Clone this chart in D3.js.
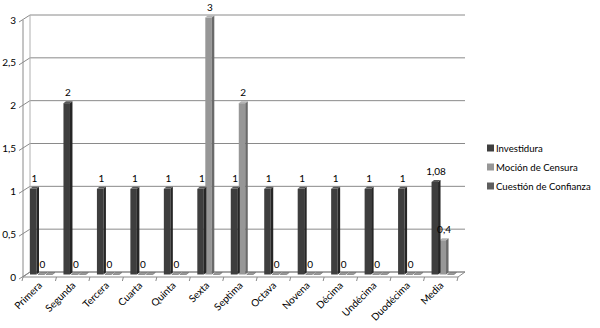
<!DOCTYPE html>
<html>
<head>
<meta charset="utf-8">
<script src="https://cdn.jsdelivr.net/npm/d3@7"></script>
<style>
body { margin: 0; background: #fff; }
text { font-family: Lato, "Liberation Sans", sans-serif; fill: #000; }
</style>
</head>
<body>
<div id="chart"></div>
<script>
width = 600
height = 328

// data
let categories = ["Primera", "Segunda", "Tercera", "Cuarta", "Quinta", "Sexta", "Septima", "Octava", "Novena", "Décima", "Undécima", "Duodécima", "Media"]
let investidura = [1, 2, 1, 1, 1, 1, 1, 1, 1, 1, 1, 1, 1.08]
let mocion = [0, 0, 0, 0, 0, 3, 2, 0, 0, 0, 0, 0, 0.4]
let cuestion = [0, 0, 0, 0, 0, 0, 0, 0, 0, 0, 0, 0, 0]
let seriesNames = ["Investidura", "Moción de Censura", "Cuestión de Confianza"]
let yTicks = [0, 0.5, 1, 1.5, 2, 2.5, 3]

let colors = [
	{front: "#3e3e3e", side: "#262626", top: "#575757"},
	{front: "#979797", side: "#6a6a6a", top: "#b4b4b4"},
	{front: "#5e5e5e", side: "#444444", top: "#6e6e6e"}
]

let locale = d3.formatLocale({decimal: ",", thousands: ".", grouping: [3], currency: ["", "€"]})
let fmt = locale.format("~g")

let svg = d3.select("#chart")
.append("svg")
.attr("width", width)
.attr("height", height)

// 3d depth offsets
let dx = 7, dy = -5
let x0 = d3.scaleBand().domain(categories).range([23, 458])
let yFront = d3.scaleLinear().domain([0, 3]).range([277, 20])
let yBack = v => yFront(v) + dy
let yBar = v => yFront(v) - 2.5
let xSeries = d3.scaleBand().domain(seriesNames).range([7, 31])
let barW = 6.5, sideW = 2.5, sideH = 2

let grid = svg.append("g")

// floor
grid.append("path")
	.attr("d", "M" + x0.range()[0] + "," + yFront(0) + "L" + x0.range()[1] + "," + yFront(0) +
		"L" + (x0.range()[1] + dx) + "," + yBack(0) + "L" + (x0.range()[0] + dx) + "," + yBack(0) + "Z")
	.attr("fill", "#fff")
	.attr("stroke", "#8a8a8a")

// back wall gridlines + side wall ticks
yTicks.forEach(v => {
	grid.append("polyline")
		.attr("points", [[19, yFront(v) + 2], [23 + dx, yBack(v)], [x0.range()[1] + dx, yBack(v)]].join(" "))
		.attr("fill", "none")
		.attr("stroke", "#8a8a8a")
		.attr("stroke-width", 1)
})

grid.append("line")
	.attr("x1", 23 + dx).attr("x2", 23 + dx)
	.attr("y1", yBack(3)).attr("y2", yBack(0))
	.attr("stroke", "#b0b0b0")

// left axis
grid.append("line")
	.attr("x1", 23).attr("x2", 23)
	.attr("y1", yFront(3)).attr("y2", yFront(0))
	.attr("stroke", "#8a8a8a")

grid.selectAll(".ytick")
	.data(yTicks)
	.join("text")
	.attr("class", "ytick")
	.attr("x", 16)
	.attr("y", d => yFront(d) + 3.5)
	.attr("text-anchor", "end")
	.attr("font-size", 10)
	.text(d => fmt(d))

// category ticks
let tickXs = categories.map(c => x0(c)).concat([x0.range()[1]])
grid.selectAll(".xtick")
	.data(tickXs)
	.join("line")
	.attr("x1", d => d).attr("x2", d => d - 1)
	.attr("y1", yFront(0)).attr("y2", yFront(0) + 4)
	.attr("stroke", "#8a8a8a")

grid.selectAll(".xlabel")
	.data(categories)
	.join("text")
	.attr("class", "xlabel")
	.attr("text-anchor", "end")
	.attr("font-size", 10)
	.attr("transform", d => "translate(" + (x0(d) + x0.bandwidth() / 2 + 3) + "," + (yFront(0) + 9) + ") rotate(-45)")
	.text(d => d)

// bars
let allSeries = [investidura, mocion, cuestion]
let bars = svg.append("g")

function drawBar(g, x, v, c) {
	let yt = yBar(v), yb = yBar(0)
	if (v > 0) {
		g.append("rect")
			.attr("x", x).attr("y", yt)
			.attr("width", barW).attr("height", yb - yt)
			.attr("fill", c.front)
		g.append("path")
			.attr("d", "M" + (x + barW) + "," + yt + "L" + (x + barW + sideW) + "," + (yt - sideH) +
				"L" + (x + barW + sideW) + "," + (yb - sideH) + "L" + (x + barW) + "," + yb + "Z")
			.attr("fill", c.side)
	}
	g.append("path")
		.attr("d", "M" + x + "," + yt + "L" + (x + barW) + "," + yt + "L" + (x + barW + sideW) + "," + (yt - sideH) +
			"L" + (x + sideW) + "," + (yt - sideH) + "Z")
		.attr("fill", v > 0 ? c.top : "#9a9a9a")
		.attr("stroke", v > 0 ? "none" : "#6c6c6c")
		.attr("stroke-width", 0.6)
}

categories.forEach((cat, i) => {
	for (let s = 2; s >= 0; s--) {
		let x = x0(cat) + xSeries(seriesNames[s])
		drawBar(bars, x, allSeries[s][i], colors[s])
	}
})

// data labels (first two series)
let labels = svg.append("g")
;[0, 1].forEach(s => {
	categories.forEach((cat, i) => {
		let v = allSeries[s][i]
		labels.append("text")
			.attr("x", x0(cat) + xSeries(seriesNames[s]) + (barW + sideW) / 2)
			.attr("y", yBar(v) - 7)
			.attr("text-anchor", "middle")
			.attr("font-size", 10)
			.text(fmt(v))
	})
})

// legend
let legend = svg.append("g").attr("transform", "translate(487,148)")
seriesNames.forEach((name, i) => {
	let row = legend.append("g").attr("transform", "translate(0," + (i * 19) + ")")
	row.append("rect")
		.attr("x", 0).attr("y", -3.5)
		.attr("width", 7).attr("height", 7)
		.attr("fill", colors[i].front)
	row.append("text")
		.attr("x", 9)
		.attr("y", 3.5)
		.attr("font-size", 9.6)
		.text(name)
})
</script>
</body>
</html>
